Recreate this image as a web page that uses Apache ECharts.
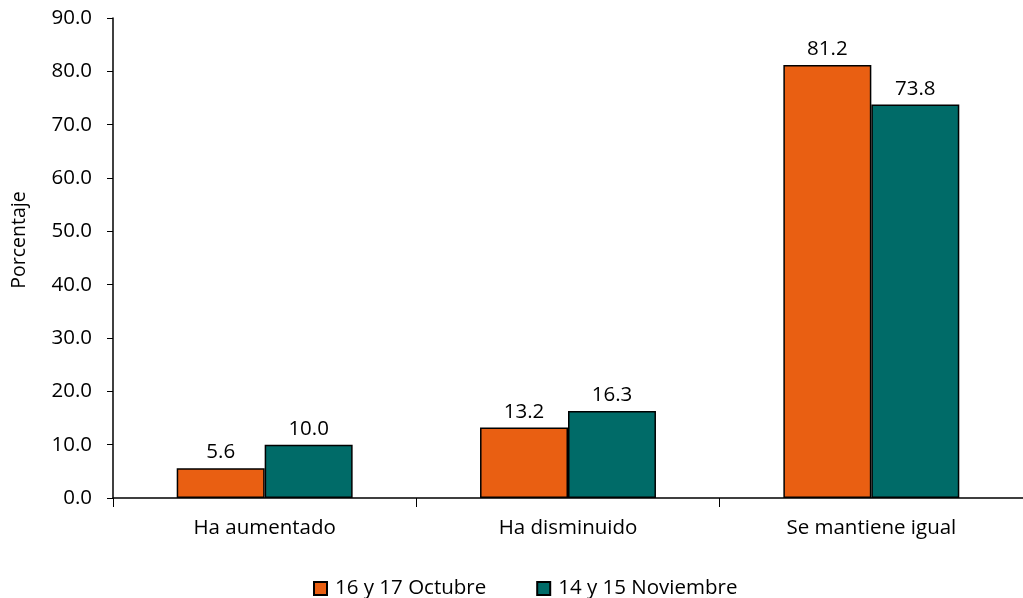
<!DOCTYPE html>
<html>
<head>
<meta charset="utf-8">
<script src="https://cdn.jsdelivr.net/npm/echarts@6/dist/echarts.min.js"></script>
<style>html,body{margin:0;padding:0;background:#fff;}#c{width:1023px;height:598px;}</style>
</head>
<body>
<div id="c"></div>
<script>
var categories = ['Ha aumentado', 'Ha disminuido', 'Se mantiene igual'];
var seriesNames = ['16 y 17 Octubre', '14 y 15 Noviembre'];
var octubre = [5.6, 13.2, 81.2];
var noviembre = [10.0, 16.3, 73.8];
var yTicks = [0, 10, 20, 30, 40, 50, 60, 70, 80, 90];

var FONT = 'Open Sans';
var FS = 20.5;
var chart = echarts.init(document.getElementById('c'));
var lbl = {show: true, position: 'top', distance: 5, color: '#000', fontFamily: FONT, fontSize: FS,
  formatter: function (p) { return p.value.toFixed(1); }};
chart.setOption({
  animation: false,
  textStyle: {fontFamily: FONT},
  grid: {left: 113, right: 0, top: 18, bottom: 100, containLabel: false},
  legend: {
    top: 573, left: 308, itemGap: 50, itemWidth: 13, itemHeight: 13, icon: 'rect',
    textStyle: {color: '#000', fontFamily: FONT, fontSize: FS, padding: [0, 0, 0, 3]},
    data: seriesNames
  },
  xAxis: {
    type: 'category', data: categories,
    axisLine: {lineStyle: {color: '#000', width: 1.5}},
    axisTick: {show: true, length: 9, lineStyle: {color: '#000'}},
    axisLabel: {color: '#000', fontFamily: FONT, fontSize: FS, margin: 20}
  },
  yAxis: {
    type: 'value', min: yTicks[0], max: yTicks[yTicks.length - 1], interval: 10,
    name: 'Porcentaje', nameLocation: 'middle', nameGap: 84, nameRotate: 90,
    nameTextStyle: {color: '#000', fontFamily: FONT, fontSize: 19.5, padding: [0, 0, 0, 36]},
    axisLine: {show: true, lineStyle: {color: '#000', width: 1.5}},
    axisTick: {show: true, length: 6, lineStyle: {color: '#000'}},
    splitLine: {show: false},
    axisLabel: {color: '#000', fontFamily: FONT, fontSize: FS, margin: 21,
      formatter: function (v) { return v.toFixed(1); }}
  },
  series: [
    {name: seriesNames[0], type: 'bar', data: octubre, barGap: '0%', barCategoryGap: '42%',
      itemStyle: {color: '#E95F12', borderColor: '#000', borderWidth: 1.5}, label: lbl},
    {name: seriesNames[1], type: 'bar', data: noviembre, barGap: '0%', barCategoryGap: '42%',
      itemStyle: {color: '#006B68', borderColor: '#000', borderWidth: 1.5}, label: lbl}
  ]
});
</script>
</body>
</html>
